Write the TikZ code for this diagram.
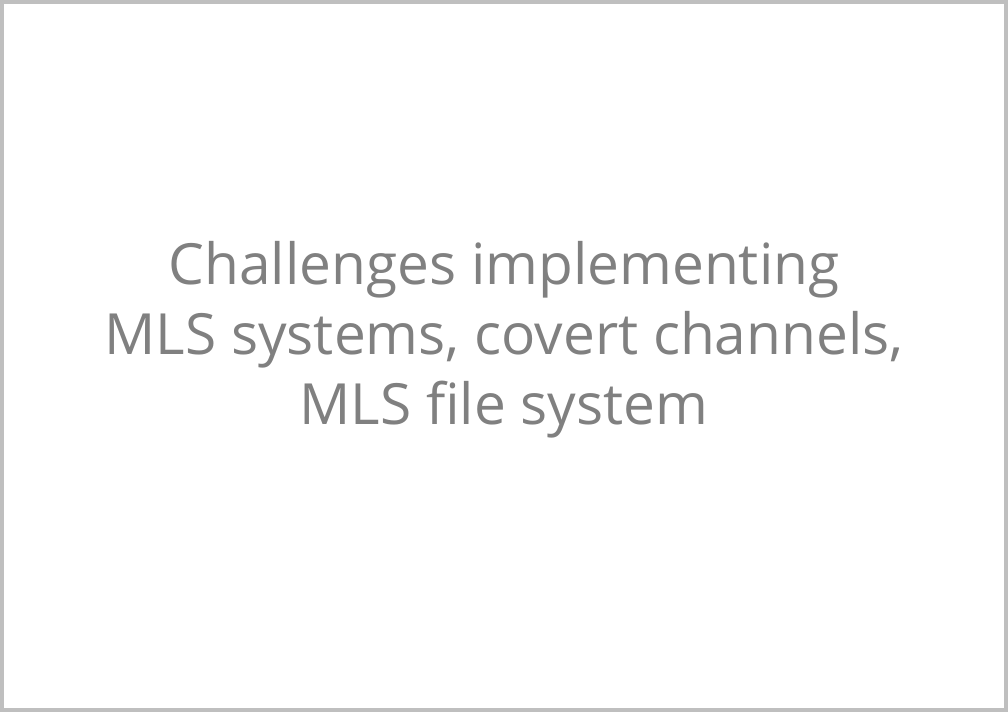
\documentclass[tikz,border=0pt]{standalone}
\usepackage{fontspec}
\setmainfont{Open Sans}
\usetikzlibrary{positioning}
\definecolor{FrameGrau}{RGB}{191,191,191}
\definecolor{TextGrau}{RGB}{128,128,128}

\begin{document}
\begin{tikzpicture}[x=1pt, y=1pt,
    frame/.style={draw=FrameGrau, line width=2pt},
    title/.style={text=TextGrau, align=center, font=\fontsize{28.4}{35}\selectfont}]
    \useasboundingbox (0,0) rectangle (504,356);
    \draw[frame] (1,1) rectangle (503,355);
    \node[title] (T) at (252,186) {Challenges implementing\\MLS systems, covert channels,\\MLS file system};
\end{tikzpicture}
\end{document}
